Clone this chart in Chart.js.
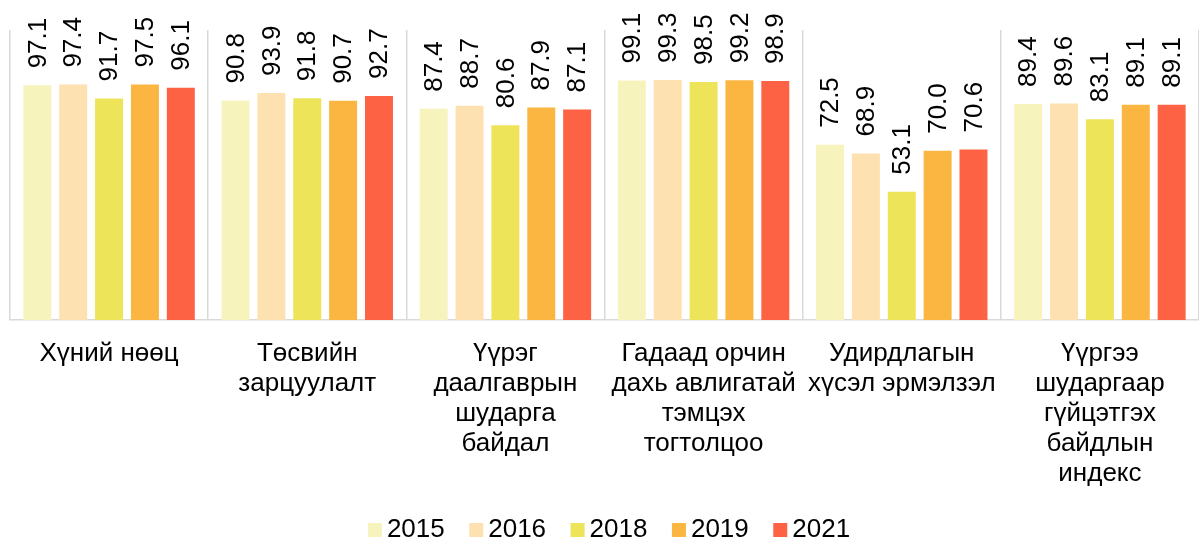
<!DOCTYPE html>
<html>
<head>
<meta charset="utf-8">
<script src="https://cdn.jsdelivr.net/npm/chart.js@4"></script>
<style>
  html, body { margin: 0; padding: 0; background: #ffffff; }
  #wrap { width: 1199px; height: 542px; position: relative; }
</style>
</head>
<body>
<div id="wrap"><canvas id="c"></canvas></div>
<script>
const categories = [
  ["Хүний нөөц"],
  ["Төсвийн", "зарцуулалт"],
  ["Үүрэг", "даалгаврын", "шударга", "байдал"],
  ["Гадаад орчин", "дахь авлигатай", "тэмцэх", "тогтолцоо"],
  ["Удирдлагын", "хүсэл эрмэлзэл"],
  ["Үүргээ", "шударгаар", "гүйцэтгэх", "байдлын", "индекс"]
];
const years = ["2015", "2016", "2018", "2019", "2021"];
const v2015 = [97.1, 90.8, 87.4, 99.1, 72.5, 89.4];
const v2016 = [97.4, 93.9, 88.7, 99.3, 68.9, 89.6];
const v2018 = [91.7, 91.8, 80.6, 98.5, 53.1, 83.1];
const v2019 = [97.5, 90.7, 87.9, 99.2, 70.0, 89.1];
const v2021 = [96.1, 92.7, 87.1, 98.9, 70.6, 89.1];
const colors = ["#F7F3BD", "#FDE1B1", "#EDE45A", "#FBB641", "#FD6245"];

const FONT = "'Liberation Sans', Arial, sans-serif";
const seriesValues = [v2015, v2016, v2018, v2019, v2021];

const dataLabelPlugin = {
  id: 'rotLabels',
  afterDatasetsDraw(chart) {
    const ctx = chart.ctx;
    ctx.save();
    ctx.font = "26px " + FONT;
    ctx.fillStyle = "#000";
    ctx.textAlign = "left";
    ctx.textBaseline = "middle";
    chart.data.datasets.forEach((ds, di) => {
      const meta = chart.getDatasetMeta(di);
      meta.data.forEach((bar, i) => {
        ctx.save();
        ctx.translate(bar.x + 1, bar.y - 17);
        ctx.rotate(-Math.PI / 2);
        ctx.fillText(ds.data[i].toFixed(1), 0, 0);
        ctx.restore();
      });
    });
    ctx.restore();
  }
};

const legendPlugin = {
  id: 'customLegend',
  afterDraw(chart) {
    const ctx = chart.ctx;
    ctx.save();
    ctx.font = "26px " + FONT;
    const box = 14, gapText = 5, gapItem = 24.5;
    const widths = years.map(y => ctx.measureText(y).width);
    let total = 0;
    widths.forEach((w, i) => { total += box + gapText + w + (i < widths.length - 1 ? gapItem : 0); });
    let x = 609 - total / 2;
    const yMid = 530;
    years.forEach((y, i) => {
      ctx.fillStyle = colors[i];
      ctx.fillRect(x, yMid - box / 2, box, box);
      ctx.fillStyle = "#000";
      ctx.textAlign = "left";
      ctx.textBaseline = "middle";
      ctx.fillText(y, x + box + gapText, yMid);
      x += box + gapText + widths[i] + gapItem;
    });
    ctx.restore();
  }
};

new Chart(document.getElementById('c'), {
  type: 'bar',
  data: {
    labels: categories,
    datasets: years.map((y, i) => ({
      label: y,
      data: seriesValues[i],
      backgroundColor: colors[i],
      borderWidth: 0,
      barPercentage: 0.78,
      categoryPercentage: 0.905
    }))
  },
  options: {
    responsive: true,
    maintainAspectRatio: false,
    animation: false,
    layout: { padding: { left: 10, top: 30, right: 0, bottom: 52 } },
    plugins: {
      legend: { display: false },
      tooltip: { enabled: false }
    },
    scales: {
      x: {
        grid: {
          offset: true,
          drawTicks: false,
          color: (c) => (c.index === 6 ? 'rgba(0,0,0,0)' : '#D9D9D9'),
          lineWidth: 1.5
        },
        border: { display: true, color: '#D9D9D9', width: 1.5 },
        ticks: {
          color: '#000',
          padding: 19,
          maxRotation: 0,
          autoSkip: false,
          font: { family: FONT, size: 26, lineHeight: 1.15 }
        },
        afterFit: (s) => { s.height = 170; }
      },
      y: {
        display: false,
        min: 0,
        max: 120
      }
    }
  },
  plugins: [dataLabelPlugin, legendPlugin]
});
</script>
</body>
</html>
